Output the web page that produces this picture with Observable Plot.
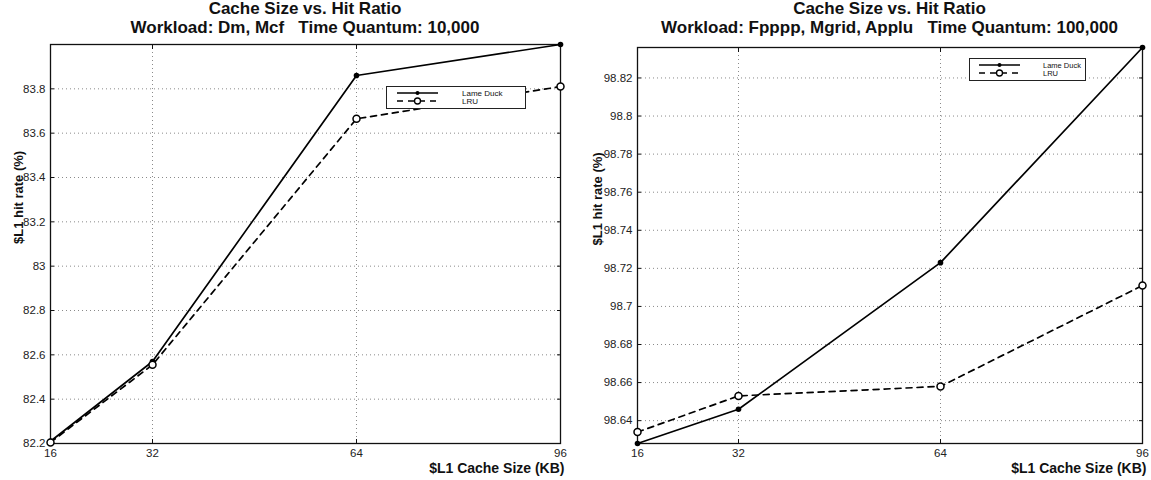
<!DOCTYPE html>
<html><head><meta charset="utf-8">
<script src="https://cdn.jsdelivr.net/npm/d3@7"></script>
<script src="https://cdn.jsdelivr.net/npm/@observablehq/plot@0.6"></script>
<style>
body{margin:0;background:#fff;font-family:"Liberation Sans",Arial,Helvetica,sans-serif;}
#wrap{position:relative;width:1151px;height:480px;overflow:hidden;background:#fff;}
.panel{position:absolute;top:0;}
.title{position:absolute;top:-1px;width:700px;font-weight:bold;font-size:17px;text-align:center;line-height:19px;color:#111;white-space:pre;}
.legend{position:absolute;border:1px solid #222;background:#fff;box-sizing:border-box;}
</style></head><body><div id="wrap"></div>
<script>
// ---- data ----
const cacheSizes = [16, 32, 64, 96];
const seriesNames = ["Lame Duck", "LRU"];
const leftLameDuck = [82.21, 82.57, 83.86, 84.0];
const leftLRU = [82.205, 82.555, 83.665, 83.81];
const rightLameDuck = [98.628, 98.646, 98.723, 98.836];
const rightLRU = [98.634, 98.653, 98.658, 98.711];
const leftYTicks = [82.2, 82.4, 82.6, 82.8, 83, 83.2, 83.4, 83.6, 83.8];
const rightYTicks = [98.64, 98.66, 98.68, 98.7, 98.72, 98.74, 98.76, 98.78, 98.8, 98.82];
const leftYDomain = [82.2, 84.0];
const rightYDomain = [98.628, 98.836];
const leftTitle = ["Cache Size vs. Hit Ratio", "Workload: Dm, Mcf   Time Quantum: 10,000"];
const rightTitle = ["Cache Size vs. Hit Ratio", "Workload: Fpppp, Mgrid, Applu   Time Quantum: 100,000"];
const xLabel = "$L1 Cache Size (KB)";
const yLabel = "$L1 hit rate (%)";

const wrap = document.getElementById("wrap");
const fmt = d => String(+(+d).toFixed(2));

function rows(ld, lru) {
  const out = [];
  cacheSizes.forEach((s, i) => out.push({size: s, rate: ld[i], series: seriesNames[0]}));
  cacheSizes.forEach((s, i) => out.push({size: s, rate: lru[i], series: seriesNames[1]}));
  return out;
}

function panel({left, width, mL, mR, mT, mB, yDomain, yTicks, ld, lru, title, yLabelDx, legend}) {
  const data = rows(ld, lru);
  const ldRows = data.filter(d => d.series === seriesNames[0]);
  const lruRows = data.filter(d => d.series === seriesNames[1]);
  const grid = {stroke: "#8a8a8a", strokeOpacity: 1, strokeWidth: 1, strokeDasharray: "1,3"};
  const chart = Plot.plot({
    width, height: 480,
    marginLeft: mL, marginRight: mR, marginTop: mT, marginBottom: mB,
    x: {domain: [16, 96], label: null},
    y: {domain: yDomain, label: null},
    style: {fontFamily: '"Liberation Sans", Arial, sans-serif', fontSize: "11.5px", color: "#222", background: "white", overflow: "visible"},
    marks: [
      Plot.gridX({ticks: cacheSizes, ...grid}),
      Plot.gridY({ticks: yTicks, ...grid}),
      Plot.frame({stroke: "#111", strokeWidth: 1.3}),
      Plot.axisX({ticks: cacheSizes, tickSize: 0, tickPadding: 5, tickFormat: fmt, fill: "#222"}),
      Plot.axisX({ticks: cacheSizes, anchor: "bottom", tickSize: -4, tickFormat: () => "", stroke: "#111"}),
      Plot.axisX({ticks: cacheSizes, anchor: "top", tickSize: -4, tickFormat: () => "", stroke: "#111"}),
      Plot.axisY({ticks: yTicks, tickSize: 0, tickPadding: 5, tickFormat: fmt, fill: "#222"}),
      Plot.axisY({ticks: yTicks, anchor: "left", tickSize: -4, tickFormat: () => "", stroke: "#111"}),
      Plot.axisY({ticks: yTicks, anchor: "right", tickSize: -4, tickFormat: () => "", stroke: "#111"}),
      Plot.line(ldRows, {x: "size", y: "rate", stroke: "#000", strokeWidth: 1.7}),
      Plot.line(lruRows, {x: "size", y: "rate", stroke: "#000", strokeWidth: 1.7, strokeDasharray: "6,5"}),
      Plot.dot(ldRows, {x: "size", y: "rate", r: 2.8, fill: "#000"}),
      Plot.dot(lruRows, {x: "size", y: "rate", r: 3.5, stroke: "#000", strokeWidth: 1.5, fill: "white"}),
      Plot.text([xLabel], {frameAnchor: "bottom-right", textAnchor: "end", dy: 29, dx: 4, fontWeight: "bold", fontSize: 14, fill: "#111"}),
      Plot.text([yLabel], {frameAnchor: "left", rotate: -90, dx: yLabelDx, fontWeight: "bold", fontSize: 13, fill: "#111"})
    ]
  });
  chart.classList.add("panel");
  chart.style.left = left + "px";
  wrap.appendChild(chart);

  const cx = left + mL + (width - mL - mR) / 2;
  const t = document.createElement("div");
  t.className = "title";
  t.style.left = (cx - 350) + "px";
  t.textContent = title.join("\n");
  wrap.appendChild(t);

  // legend box
  const lg = document.createElement("div");
  lg.className = "legend";
  lg.style.left = legend.x + "px";
  lg.style.top = legend.y + "px";
  lg.style.width = legend.w + "px";
  lg.style.height = legend.h + "px";
  const svg = d3.create("svg").attr("width", legend.w - 2).attr("height", legend.h - 2)
    .style("position", "absolute").style("left", "0px").style("top", "0px")
    .style("font-family", '"Liberation Sans", Arial, sans-serif').style("font-size", legend.fs + "px");
  const x1 = legend.lx1, x2 = legend.lx2, xm = (x1 + x2) / 2;
  svg.append("line").attr("x1", x1).attr("x2", x2).attr("y1", 6).attr("y2", 6).attr("stroke", "#000").attr("stroke-width", 1.6);
  svg.append("circle").attr("cx", xm).attr("cy", 6).attr("r", 2).attr("fill", "#000");
  svg.append("line").attr("x1", x1).attr("x2", x2).attr("y1", 14).attr("y2", 14).attr("stroke", "#000").attr("stroke-width", 1.6).attr("stroke-dasharray", "6,5");
  svg.append("circle").attr("cx", xm).attr("cy", 14).attr("r", 3).attr("fill", "white").attr("stroke", "#000").attr("stroke-width", 1.3);
  svg.append("text").attr("x", legend.tx).attr("y", 9).text(seriesNames[0]).attr("fill", "#111");
  svg.append("text").attr("x", legend.tx).attr("y", 17).text(seriesNames[1]).attr("fill", "#111");
  lg.appendChild(svg.node());
  wrap.appendChild(lg);
}

panel({left: 0, width: 575, mL: 50, mR: 15, mT: 44, mB: 37, yDomain: leftYDomain, yTicks: leftYTicks,
  ld: leftLameDuck, lru: leftLRU, title: leftTitle, yLabelDx: -32,
  legend: {x: 386, y: 86, w: 140, h: 23, lx1: 10, lx2: 51, tx: 75, fs: 8}});
panel({left: 575, width: 576, mL: 62, mR: 9, mT: 47, mB: 37, yDomain: rightYDomain, yTicks: rightYTicks,
  ld: rightLameDuck, lru: rightLRU, title: rightTitle, yLabelDx: -40,
  legend: {x: 969, y: 58, w: 117, h: 23, lx1: 9, lx2: 50, tx: 73, fs: 7.5}});
</script>
</body></html>
